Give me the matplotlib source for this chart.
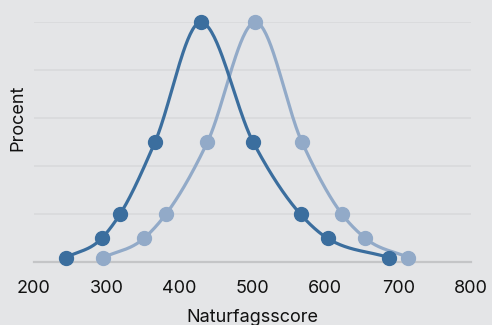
import numpy as np
import matplotlib
matplotlib.use('Agg')
import matplotlib.pyplot as plt

# percentile points (1, 5, 10, 25, 50, 75, 90, 95, 99), y folded at 50
pct_y = [1, 5, 10, 25, 50, 25, 10, 5, 1]
score_a = [244, 293, 318, 366, 429, 501, 566, 603, 687]
score_b = [295, 351, 381, 438, 504, 568, 623, 655, 714]

x_ticks = [200, 300, 400, 500, 600, 700, 800]
grid_y = [10, 20, 30, 40, 50]

dark = '#3b6e9e'
light = '#92aac8'
bg = '#e4e5e7'


def monotone_x(xs, ys, n=40):
    # monotone cubic through the points, straight-ish ends
    xs = np.asarray(xs, float)
    ys = np.asarray(ys, float)
    h = np.diff(xs)
    s = np.diff(ys) / h
    m = np.zeros(len(xs))
    for i in range(1, len(xs) - 1):
        p = (s[i-1] * h[i] + s[i] * h[i-1]) / (h[i-1] + h[i])
        m[i] = (np.sign(s[i-1]) + np.sign(s[i])) * min(abs(s[i-1]), abs(s[i]), 0.5 * abs(p))
    m[0] = s[0]
    m[-1] = s[-1]
    ox, oy = [], []
    for i in range(len(xs) - 1):
        t = np.linspace(0, 1, n)
        h00 = 2*t**3 - 3*t**2 + 1
        h10 = t**3 - 2*t**2 + t
        h01 = -2*t**3 + 3*t**2
        h11 = t**3 - t**2
        ox.extend(xs[i] + t * h[i])
        oy.extend(h00*ys[i] + h10*h[i]*m[i] + h01*ys[i+1] + h11*h[i]*m[i+1])
    return ox, oy


fig = plt.figure(figsize=(4.92, 3.25), dpi=100)
fig.patch.set_facecolor(bg)
ax = fig.add_axes([34/492, 1 - 262.3/325, 437/492, 240/325])
ax.set_facecolor(bg)
ax.set_xlim(200, 800)
ax.set_ylim(0, 50)

for g in grid_y:
    ax.axhline(g, color='#d9dadc', lw=1.2, zorder=0)
ax.axhline(0, color='#c4c5c7', lw=1.6, zorder=1, clip_on=False)

for xs, c in [(score_b, light), (score_a, dark)]:
    cx, cy = monotone_x(xs, pct_y)
    ax.plot(cx, cy, color=c, lw=2.3, zorder=3, clip_on=False, solid_capstyle='round')
    ax.plot(xs, pct_y, 'o', color=c, ms=10, zorder=4, clip_on=False)

for sp in ax.spines.values():
    sp.set_visible(False)

ax.set_xticks(x_ticks)
ax.set_yticks([])
ax.tick_params(axis='x', length=0, pad=13, labelsize=13, colors='#111111')
ax.set_xlabel('Naturfagsscore', fontsize=13, color='#111111')
ax.xaxis.set_label_coords(0.5, -0.195)
ax.set_ylabel('Procent', fontsize=13, color='#111111')
ax.yaxis.set_label_coords(-0.018, 0.6)

for lab in ax.get_xticklabels() + [ax.xaxis.label, ax.yaxis.label]:
    lab.set_family(['Inter', 'DejaVu Sans'])

fig.savefig('out.png', dpi=100, facecolor=bg)
